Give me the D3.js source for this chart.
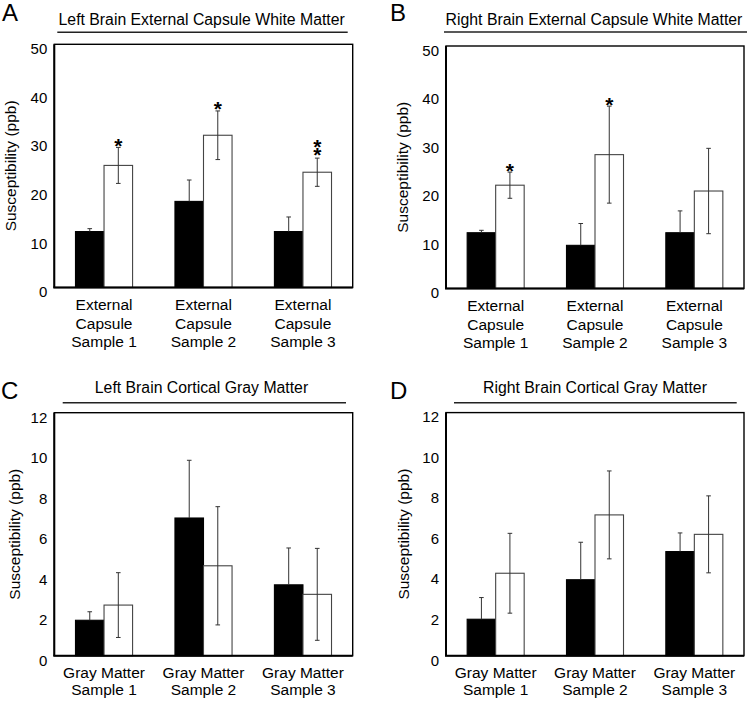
<!DOCTYPE html>
<html>
<head>
<meta charset="utf-8">
<script src="https://cdn.jsdelivr.net/npm/d3@7"></script>
<style>
  html, body { margin: 0; padding: 0; background: #fff; }
  svg { display: block; }
  text { font-family: "Liberation Sans", Arial, Helvetica, sans-serif; fill: #000; }
</style>
</head>
<body>
<svg id="chart" width="747" height="702"></svg>
<script>
// ---------------- DATA ----------------
const groupKeys = ["s1", "s2", "s3"];
const wmLabels = [["External", "Capsule", "Sample 1"], ["External", "Capsule", "Sample 2"], ["External", "Capsule", "Sample 3"]];
const gmLabels = [["Gray Matter", "Sample 1"], ["Gray Matter", "Sample 2"], ["Gray Matter", "Sample 3"]];
const wmTicks = [0, 10, 20, 30, 40, 50];
const gmTicks = [0, 2, 4, 6, 8, 10, 12];
const yAxisTitle = "Susceptibility (ppb)";

// A: Left Brain External Capsule White Matter
const leftWMBlack = [11.5, 17.7, 11.5];
const leftWMBlackErr = [0.6, 4.4, 3.0];
const leftWMWhite = [25.1, 31.3, 23.7];
const leftWMWhiteErr = [3.7, 5.0, 2.9];
const leftWMSig = ["*", "*", "**"];

// B: Right Brain External Capsule White Matter
const rightWMBlack = [11.5, 8.9, 11.5];
const rightWMBlackErr = [0.5, 4.5, 4.5];
const rightWMWhite = [21.3, 27.6, 20.1];
const rightWMWhiteErr = [2.7, 10.0, 8.8];
const rightWMSig = ["*", "*", ""];

// C: Left Brain Cortical Gray Matter
const leftGMBlack = [1.75, 6.8, 3.5];
const leftGMBlackErr = [0.42, 2.85, 1.82];
const leftGMWhite = [2.5, 4.44, 3.03];
const leftGMWhiteErr = [1.6, 2.92, 2.27];
const leftGMSig = ["", "", ""];

// D: Right Brain Cortical Gray Matter
const rightGMBlack = [1.8, 3.75, 5.14];
const rightGMBlackErr = [1.07, 1.85, 0.92];
const rightGMWhite = [4.07, 6.95, 5.99];
const rightGMWhiteErr = [1.97, 2.17, 1.9];
const rightGMSig = ["", "", ""];

// ---------------- LAYOUT ----------------
const panels = [
  { letter: "A", title: "Left Brain External Capsule White Matter",
    black: leftWMBlack, blackErr: leftWMBlackErr, white: leftWMWhite, whiteErr: leftWMWhiteErr, sig: leftWMSig,
    labels: wmLabels, ticks: wmTicks, max: 50,
    x0: 54.3, x1: 352.7, y0: 44.3, y1: 287.5,
    letterX: 2, letterY: 21, titleX: 201.7, titleY: 25, ul: [57.3, 347.7, 32.3], ylabX: 11 },
  { letter: "B", title: "Right Brain External Capsule White Matter",
    black: rightWMBlack, blackErr: rightWMBlackErr, white: rightWMWhite, whiteErr: rightWMWhiteErr, sig: rightWMSig,
    labels: wmLabels, ticks: wmTicks, max: 50,
    x0: 446, x1: 744, y0: 46, y1: 288.5,
    letterX: 390, letterY: 21, titleX: 594, titleY: 25, ul: [444, 747, 32], ylabX: 403 },
  { letter: "C", title: "Left Brain Cortical Gray Matter",
    black: leftGMBlack, blackErr: leftGMBlackErr, white: leftGMWhite, whiteErr: leftGMWhiteErr, sig: leftGMSig,
    labels: gmLabels, ticks: gmTicks, max: 12,
    x0: 54.3, x1: 352.7, y0: 412.7, y1: 655.7,
    letterX: 1, letterY: 399, titleX: 201.5, titleY: 393, ul: [62.7, 346, 402.7], ylabX: 15 },
  { letter: "D", title: "Right Brain Cortical Gray Matter",
    black: rightGMBlack, blackErr: rightGMBlackErr, white: rightGMWhite, whiteErr: rightGMWhiteErr, sig: rightGMSig,
    labels: gmLabels, ticks: gmTicks, max: 12,
    x0: 446, x1: 744, y0: 412.6, y1: 655.7,
    letterX: 390, letterY: 399, titleX: 595, titleY: 393, ul: [454, 736.7, 402.7], ylabX: 404 }
];

const svg = d3.select("#chart");
svg.append("rect").attr("width", 747).attr("height", 702).attr("fill", "#fff");

panels.forEach(p => {
  const g = svg.append("g");
  const x = d3.scaleBand().domain(groupKeys).range([p.x0, p.x1]).paddingInner(0.426).paddingOuter(0.213);
  const xs = d3.scaleBand().domain(["black", "white"]).range([0, x.bandwidth()]).padding(0);
  const y = d3.scaleLinear().domain([0, p.max]).range([p.y1, p.y0]);

  // panel letter
  g.append("text").attr("x", p.letterX).attr("y", p.letterY)
    .style("font-size", "24px").text(p.letter);
  // title and underline
  g.append("text").attr("x", p.titleX).attr("y", p.titleY).attr("text-anchor", "middle")
    .style("font-size", "15.8px").text(p.title);
  g.append("line").attr("x1", p.ul[0]).attr("x2", p.ul[1]).attr("y1", p.ul[2]).attr("y2", p.ul[2])
    .attr("stroke", "#222").attr("stroke-width", 1.6);

  // y axis tick labels (no tick marks)
  const yAxis = d3.axisLeft(y).tickValues(p.ticks).tickSize(0).tickPadding(7).tickFormat(d3.format("d"));
  const ya = g.append("g").attr("transform", `translate(${p.x0},0)`).call(yAxis);
  ya.select(".domain").remove();
  ya.selectAll("text").attr("dy", "0.62em").style("font-size", "15px")
    .style("font-family", "'Liberation Sans', Arial, sans-serif").attr("fill", "#000");

  // y axis title
  const yc = (p.y0 + p.y1) / 2;
  g.append("text").attr("transform", `translate(${p.ylabX},${yc}) rotate(-90)`)
    .attr("text-anchor", "middle").attr("dy", "0.35em").style("font-size", "15.5px").text(yAxisTitle);

  // bars
  const rows = groupKeys.map((k, i) => ({ key: k, i,
    vals: [{ s: "black", v: p.black[i], e: p.blackErr[i] }, { s: "white", v: p.white[i], e: p.whiteErr[i] }] }));
  const gg = g.selectAll("g.grp").data(rows).join("g").attr("class", "grp")
    .attr("transform", d => `translate(${x(d.key)},0)`);
  gg.selectAll("rect").data(d => d.vals).join("rect")
    .attr("x", d => xs(d.s)).attr("width", xs.bandwidth())
    .attr("y", d => y(d.v)).attr("height", d => y(0) - y(d.v))
    .attr("fill", d => d.s === "black" ? "#000" : "#fff")
    .attr("stroke", d => d.s === "black" ? "#000" : "#444")
    .attr("stroke-width", 1.1);

  // error bars (black bars show upper half only; lower half hidden inside the bar)
  const cap = 2.3;
  gg.each(function(d) {
    const sel = d3.select(this);
    d.vals.forEach(v => {
      const cx = xs(v.s) + xs.bandwidth() / 2;
      const lo = v.s === "black" ? v.v : v.v - v.e;
      const hi = v.v + v.e;
      sel.append("line").attr("x1", cx).attr("x2", cx).attr("y1", y(lo)).attr("y2", y(hi))
        .attr("stroke", "#333").attr("stroke-width", 1);
      sel.append("line").attr("x1", cx - cap).attr("x2", cx + cap).attr("y1", y(hi)).attr("y2", y(hi))
        .attr("stroke", "#333").attr("stroke-width", 1);
      if (v.s === "white") {
        sel.append("line").attr("x1", cx - cap).attr("x2", cx + cap).attr("y1", y(lo)).attr("y2", y(lo))
          .attr("stroke", "#333").attr("stroke-width", 1);
      }
    });
    // significance markers above white bar (stacked vertically in one text element)
    const mark = p.sig[d.i];
    if (mark) {
      const cx = xs("white") + xs.bandwidth() / 2;
      const top = y(d.vals[1].v + d.vals[1].e);
      const n = mark.length;
      const t = sel.append("text").attr("text-anchor", "middle")
        .style("font-size", "21px").style("font-weight", "bold");
      for (let k = 0; k < n; k++) {
        t.append("tspan").attr("x", cx).attr("y", top + 5.5 - (n - 1 - k) * 8 - (n > 1 ? 2 : 0)).text("*");
      }
    }
  });

  // frame
  g.append("rect").attr("x", p.x0).attr("y", p.y0).attr("width", p.x1 - p.x0).attr("height", p.y1 - p.y0)
    .attr("fill", "none").attr("stroke", "#000").attr("stroke-width", 1.4);
  g.append("line").attr("x1", p.x0).attr("x2", p.x0).attr("y1", p.y0).attr("y2", p.y1)
    .attr("stroke", "#000").attr("stroke-width", 2);
  g.append("line").attr("x1", p.x0 - 1).attr("x2", p.x1).attr("y1", p.y1).attr("y2", p.y1)
    .attr("stroke", "#000").attr("stroke-width", 2);

  // x labels
  const firstBase = p.y1 + 22.5;
  const lh = p.labels[0].length === 3 ? 18.5 : 17;
  groupKeys.forEach((k, i) => {
    const t = g.append("text").attr("text-anchor", "middle").style("font-size", "15.5px");
    p.labels[i].forEach((line, j) => {
      t.append("tspan").attr("x", x(k) + x.bandwidth() / 2).attr("y", firstBase + j * lh).text(line);
    });
  });
});
</script>
</body>
</html>
